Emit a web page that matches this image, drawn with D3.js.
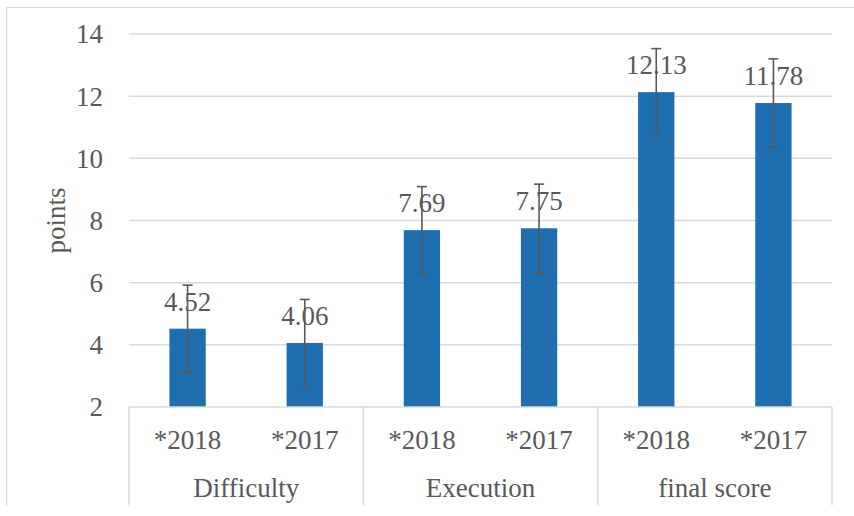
<!DOCTYPE html>
<html>
<head>
<meta charset="utf-8">
<script src="https://cdn.jsdelivr.net/npm/d3@7"></script>
<style>
  html, body { margin: 0; padding: 0; background: #fff; }
</style>
</head>
<body>
<svg id="chart" width="854" height="516" font-family="'Liberation Serif', 'DejaVu Serif', serif"></svg>
<script>
// Scores by component and year
const groups = ["Difficulty", "Execution", "final score"];
const years = ["*2018", "*2017"];
const means = [4.52, 4.06, 7.69, 7.75, 12.13, 11.78];
const errors = [1.40, 1.40, 1.40, 1.42, 1.40, 1.42];
const yTicks = [2, 4, 6, 8, 10, 12, 14];

const bars = means.map((v, i) => ({
  key: groups[Math.floor(i / 2)] + "|" + years[i % 2],
  group: groups[Math.floor(i / 2)],
  year: years[i % 2],
  value: v,
  err: errors[i]
}));

const svg = d3.select("#chart");
const plotLeft = 129, plotRight = 832, plotTop = 34, plotBottom = 407, axisEnd = 505;
const textColor = "#595959";

// frame
svg.append("path")
  .attr("d", `M6.5,${axisEnd + 1}V7.5H854`)
  .attr("fill", "none").attr("stroke", "#d9d9d9").attr("stroke-width", 1.2);

const y = d3.scaleLinear().domain([2, 14]).range([plotBottom, plotTop]);
const x = d3.scaleBand().domain(bars.map(d => d.key)).range([plotLeft, plotRight])
  .paddingInner(0.69).paddingOuter(0.345);
const xg = d3.scaleBand().domain(groups).range([plotLeft, plotRight]);

// grid
svg.append("g").selectAll("line").data(yTicks.slice(1)).join("line")
  .attr("x1", plotLeft).attr("x2", plotRight)
  .attr("y1", d => y(d)).attr("y2", d => y(d))
  .attr("stroke", "#d9d9d9").attr("stroke-width", 1.5);

// y tick labels
svg.append("g").selectAll("text").data(yTicks).join("text")
  .attr("x", 103).attr("y", d => y(d)).attr("dy", "0.35em")
  .attr("text-anchor", "end").attr("font-size", 27).attr("fill", textColor)
  .text(d => d);

// y title
svg.append("text")
  .attr("transform", `translate(56,${(plotTop + plotBottom) / 2}) rotate(-90)`)
  .attr("text-anchor", "middle").attr("dy", "0.35em").attr("font-size", 27)
  .attr("fill", textColor)
  .text("points");

// bars
svg.append("g").selectAll("rect").data(bars).join("rect")
  .attr("x", d => x(d.key)).attr("width", x.bandwidth())
  .attr("y", d => y(d.value)).attr("height", d => y(2) - y(d.value))
  .attr("fill", "#1f6fb0");

// value labels
svg.append("g").selectAll("text").data(bars).join("text")
  .attr("x", d => x(d.key) + x.bandwidth() / 2)
  .attr("y", d => y(d.value) - 18)
  .attr("text-anchor", "middle").attr("font-size", 27).attr("fill", textColor)
  .text(d => d.value.toFixed(2));

// error bars
const eb = svg.append("g").attr("stroke", "#595959").attr("stroke-width", 1.6);
bars.forEach(d => {
  const cx = x(d.key) + x.bandwidth() / 2;
  const y1 = y(d.value + d.err), y0 = y(d.value - d.err);
  eb.append("line").attr("x1", cx).attr("x2", cx).attr("y1", y1).attr("y2", y0);
  eb.append("line").attr("x1", cx - 5).attr("x2", cx + 5).attr("y1", y1).attr("y2", y1);
  eb.append("line").attr("x1", cx - 5).attr("x2", cx + 5).attr("y1", y0).attr("y2", y0);
});

// category axis
svg.append("line").attr("x1", plotLeft).attr("x2", plotRight).attr("y1", plotBottom).attr("y2", plotBottom)
  .attr("stroke", "#d9d9d9").attr("stroke-width", 1.5);
svg.append("g").selectAll("line").data(groups.map(g => xg(g)).concat([plotRight])).join("line")
  .attr("x1", d => d).attr("x2", d => d).attr("y1", plotBottom).attr("y2", axisEnd)
  .attr("stroke", "#d9d9d9").attr("stroke-width", 1.5);

svg.append("g").selectAll("text").data(bars).join("text")
  .attr("x", d => x(d.key) + x.bandwidth() / 2).attr("y", 449)
  .attr("text-anchor", "middle").attr("font-size", 27).attr("fill", textColor)
  .text(d => d.year);

svg.append("g").selectAll("text").data(groups).join("text")
  .attr("x", d => xg(d) + xg.bandwidth() / 2).attr("y", 497)
  .attr("text-anchor", "middle").attr("font-size", 27).attr("fill", textColor)
  .text(d => d);
</script>
</body>
</html>
